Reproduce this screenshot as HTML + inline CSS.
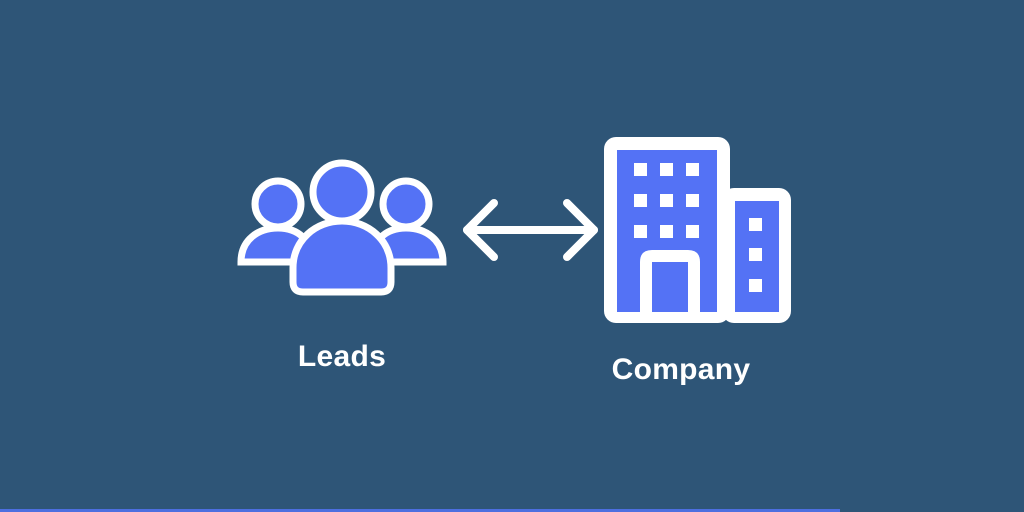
<!DOCTYPE html>
<html><head><style>
html,body{margin:0;padding:0}
body{width:1024px;height:512px;background:#2e5577;position:relative;overflow:hidden;font-family:"Liberation Sans",sans-serif}
.t{position:absolute;color:#fff;font-weight:bold;font-size:30px;transform:translateX(-50%);white-space:nowrap;letter-spacing:0.3px}
</style></head><body>
<svg width="1024" height="512" style="position:absolute;left:0;top:0">
<g stroke="#fff" stroke-width="7" fill="#5472f5">
<path d="M241,262 C241,240 258,228 278,228 C298,228 312,240 312,262 Z"/>
<path d="M372,262 C372,240 386,228 406,228 C426,228 443,240 443,262 Z"/>
<circle cx="278" cy="204" r="23"/>
<circle cx="406" cy="204" r="23"/>
<circle cx="342" cy="192" r="29"/>
<path d="M293,282 L293,268 C293,240 316,221 342,221 C368,221 391,240 391,268 L391,282 Q391,292 381,292 L303,292 Q293,292 293,282 Z"/>
</g>
<g stroke="#fff" stroke-width="8" fill="none" stroke-linecap="round" stroke-linejoin="round">
<line x1="467" y1="230" x2="594" y2="230"/>
<polyline points="494,203 467,230 494,257"/>
<polyline points="567,203 594,230 567,257"/>
</g>
<rect x="604" y="137" width="126" height="186" rx="12" fill="#fff"/>
<rect x="722" y="188" width="69" height="135" rx="12" fill="#fff"/>
<rect x="617" y="150" width="100" height="162" fill="#5472f5"/>
<rect x="735" y="201" width="44" height="111" fill="#5472f5"/>
<g fill="#fff">
<rect x="634" y="163" width="13" height="13"/><rect x="660" y="163" width="13" height="13"/><rect x="686" y="163" width="13" height="13"/>
<rect x="634" y="194" width="13" height="13"/><rect x="660" y="194" width="13" height="13"/><rect x="686" y="194" width="13" height="13"/>
<rect x="634" y="225" width="13" height="13"/><rect x="660" y="225" width="13" height="13"/><rect x="686" y="225" width="13" height="13"/>
<rect x="749" y="218" width="13" height="13"/><rect x="749" y="248" width="13" height="13"/><rect x="749" y="279" width="13" height="13"/>
<path d="M640,312 L640,262 Q640,250 652,250 L688,250 Q700,250 700,262 L700,312 Z"/>
</g>
<rect x="652" y="262" width="36" height="50" fill="#5472f5"/>
<rect x="0" y="509" width="840" height="3" fill="#4d6fe0"/>
</svg>
<div class="t" style="left:342px;top:340px">Leads</div>
<div class="t" style="left:681px;top:353px">Company</div>
</body></html>
